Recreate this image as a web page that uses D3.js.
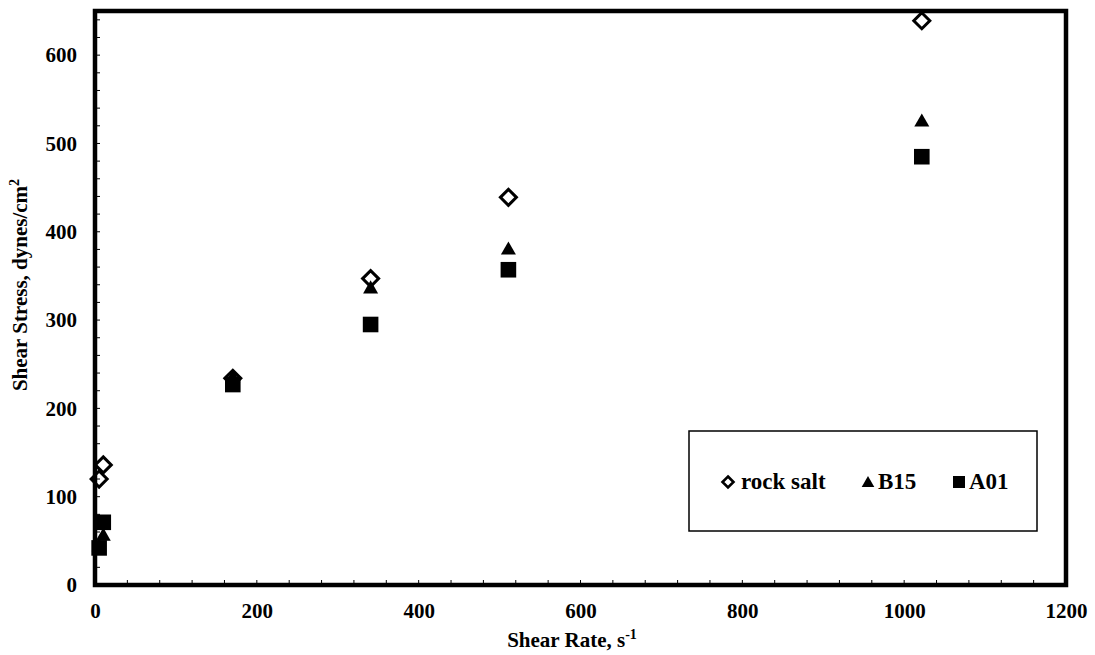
<!DOCTYPE html>
<html>
<head>
<meta charset="utf-8">
<script src="https://cdn.jsdelivr.net/npm/d3@7"></script>
<style>
  html, body { margin: 0; padding: 0; background: #fff; }
  svg { display: block; font-family: "Liberation Serif", "Times New Roman", serif; font-weight: bold; }
</style>
</head>
<body>
<svg id="chart" width="1095" height="655"></svg>
<script>
// Shear rates of the six viscometer speeds (s^-1)
const shearRate = [5.11, 10.22, 170.3, 340.6, 510.9, 1021.8];

// Shear stress readings (dynes/cm^2) for each fluid
const rockSalt = [120, 136, 234, 347, 439, 639];
const b15 = [45, 57, 236, 337, 381, 526];
const a01 = [42, 71, 227, 295, 357, 485];

const seriesNames = ["rock salt", "B15", "A01"];
const seriesShapes = ["diamond", "triangle", "square"];

const xTicks = [0, 200, 400, 600, 800, 1000, 1200];
const yTicks = [0, 100, 200, 300, 400, 500, 600];

const svg = d3.select("#chart");
const m = { left: 95, right: 1066, top: 11, bottom: 585 };

const x = d3.scaleLinear().domain([0, 1200]).range([m.left, m.right]);
const y = d3.scaleLinear().domain([0, 650]).range([m.bottom, m.top]);

// minor tick marks inside the frame
const xMinor = d3.range(0, 1200 + 1, 40);
const yMinor = d3.range(0, 650 + 1, 20);
svg.append("g").selectAll("line").data(xMinor).join("line")
  .attr("x1", d => x(d)).attr("x2", d => x(d))
  .attr("y1", m.bottom).attr("y2", m.bottom - 5)
  .attr("stroke", "#000").attr("stroke-width", 1);
svg.append("g").selectAll("line").data(yMinor).join("line")
  .attr("x1", m.left).attr("x2", m.left + 5)
  .attr("y1", d => y(d)).attr("y2", d => y(d))
  .attr("stroke", "#000").attr("stroke-width", 1);

// axis tick labels
const xAxis = d3.axisBottom(x).tickValues(xTicks).tickSize(0).tickPadding(18).tickFormat(d3.format("d"));
const gx = svg.append("g").attr("transform", `translate(0,${m.bottom})`).call(xAxis);
gx.select(".domain").remove();
gx.selectAll("text").attr("font-size", 21).attr("font-family", "Liberation Serif").attr("font-weight", "bold").attr("fill", "#000");

const yAxis = d3.axisLeft(y).tickValues(yTicks).tickSize(0).tickPadding(18).tickFormat(d3.format("d"));
const gy = svg.append("g").attr("transform", `translate(${m.left},0)`).call(yAxis);
gy.select(".domain").remove();
gy.selectAll("text").attr("font-size", 21).attr("font-family", "Liberation Serif").attr("font-weight", "bold").attr("fill", "#000");

// frame
svg.append("rect")
  .attr("x", m.left).attr("y", m.top)
  .attr("width", m.right - m.left).attr("height", m.bottom - m.top)
  .attr("fill", "none").attr("stroke", "#000").attr("stroke-width", 4.5);

// markers
function shapePath(shape, s) {
  if (shape === "diamond") return `M0,${-s}L${s},0L0,${s}L${-s},0Z`;
  if (shape === "triangle") return `M0,${-s * 0.95}L${s},${s * 0.8}L${-s},${s * 0.8}Z`;
  return `M${-s},${-s}H${s}V${s}H${-s}Z`;
}

const series = [
  { name: seriesNames[0], shape: seriesShapes[0], values: rockSalt },
  { name: seriesNames[1], shape: seriesShapes[1], values: b15 },
  { name: seriesNames[2], shape: seriesShapes[2], values: a01 }
];

series.forEach(s => {
  const g = svg.append("g");
  g.selectAll("path").data(s.values.map((v, i) => [shearRate[i], v])).join("path")
    .attr("transform", d => `translate(${x(d[0])},${y(d[1])})`)
    .attr("d", s.shape === "diamond" ? shapePath("diamond", 8) : s.shape === "triangle" ? shapePath("triangle", 7.5) : shapePath("square", 7.8))
    .attr("fill", s.shape === "diamond" ? "none" : "#000")
    .attr("stroke", "#000")
    .attr("stroke-width", s.shape === "diamond" ? 3 : 0);
});

// legend
const leg = svg.append("g");
leg.append("rect").attr("x", 689).attr("y", 431).attr("width", 348).attr("height", 100)
  .attr("fill", "#fff").attr("stroke", "#000").attr("stroke-width", 1.5);
const legItems = [
  { mx: 728, tx: 741 },
  { mx: 868, tx: 878 },
  { mx: 959, tx: 969 }
];
series.forEach((s, i) => {
  const it = legItems[i];
  leg.append("path")
    .attr("transform", `translate(${it.mx},482)`)
    .attr("d", s.shape === "diamond" ? shapePath("diamond", 5.5) : s.shape === "triangle" ? shapePath("triangle", 6.3) : shapePath("square", 6))
    .attr("fill", s.shape === "diamond" ? "none" : "#000")
    .attr("stroke", "#000")
    .attr("stroke-width", s.shape === "diamond" ? 2.6 : 0);
  leg.append("text").attr("x", it.tx).attr("y", 489)
    .attr("font-size", 23).text(s.name);
});

// axis titles
const xt = svg.append("text").attr("x", 572).attr("y", 647).attr("text-anchor", "middle").attr("font-size", 21);
xt.append("tspan").text("Shear Rate, s");
xt.append("tspan").attr("font-size", 14).attr("dy", -8).text("-1");

const yt = svg.append("text").attr("transform", "translate(27,285) rotate(-90)").attr("text-anchor", "middle").attr("font-size", 21);
yt.append("tspan").text("Shear Stress, dynes/cm");
yt.append("tspan").attr("font-size", 14).attr("dy", -8).text("2");
</script>
</body>
</html>
